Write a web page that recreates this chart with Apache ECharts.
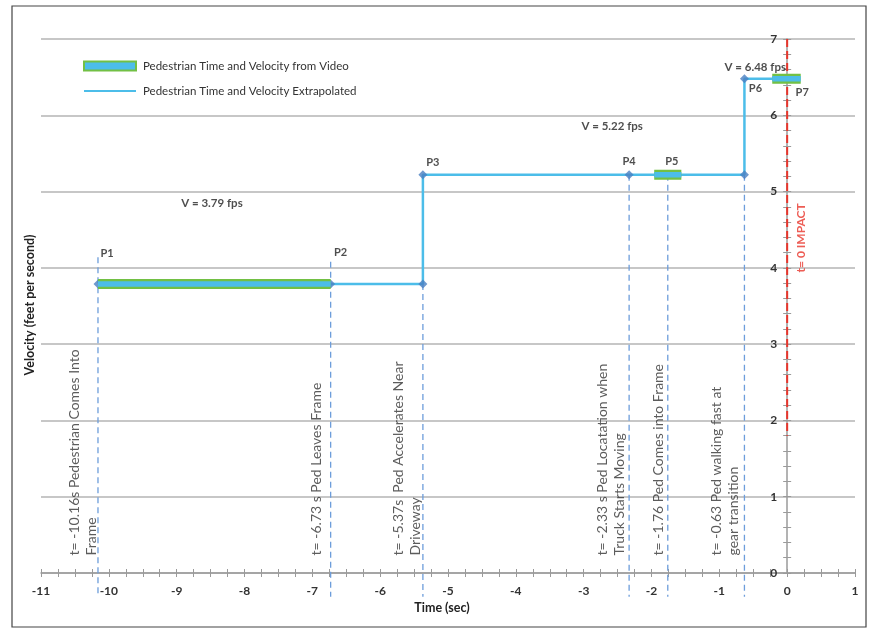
<!DOCTYPE html>
<html>
<head>
<meta charset="utf-8">
<script src="https://cdn.jsdelivr.net/npm/echarts@6/dist/echarts.min.js"></script>
<style>
  html, body { margin: 0; padding: 0; background: #fff; }
  #chart { width: 872px; height: 634px; }
</style>
</head>
<body>
<div id="chart"></div>
<script>
// Pedestrian walking speed before impact (t = 0)
const eventNames = ['P1', 'P2', 'P3', 'P4', 'P5', 'P6', 'P7'];
const eventTimes = [-10.16, -6.73, -5.37, -2.33, -1.76, -0.63, 0];
const speedLevels = [3.79, 5.22, 6.48];

// Extrapolated velocity profile (step changes at P3 and P6)
const extrapTimes = [-10.16, -5.37, -5.37, -0.63, -0.63, 0];
const extrapSpeeds = [3.79, 3.79, 5.22, 5.22, 6.48, 6.48];

// Time spans covered by video footage
const videoStart = [-10.16, -1.96, -0.22];
const videoEnd = [-6.73, -1.56, 0.20];
const videoSpeed = [3.79, 5.22, 6.48];

// Diamond markers at the profile's break points
const markerTimes = [-10.16, -6.73, -5.37, -5.37, -2.33, -0.63, -0.63];
const markerSpeeds = [3.79, 3.79, 3.79, 5.22, 5.22, 5.22, 6.48];

// Event guide lines: time, top of dashed guide
const guideTimes = [-10.16, -6.73, -5.37, -2.33, -1.76, -0.63];
const guideTops = [4.14, 4.08, 3.79, 5.22, 5.22, 5.22];
const guideBottom = -0.31;

const eventNotes = [
  't= -10.16s Pedestrian Comes Into\nFrame',
  't= -6.73 s Ped Leaves Frame',
  't= -5.37s  Ped Accelerates Near\nDriveway',
  't= -2.33 s Ped Locatation when\nTruck Starts Moving',
  't= -1.76 Ped Comes into Frame',
  't= -0.63 Ped walking fast at\ngear transition'
];

const xTicks = { min: -11, max: 1, step: 1 };
const yTicks = { min: 0, max: 7, step: 1 };

const impactTop = 7;
const impactBottom = 1.8;

const FONT = 'Lato, "Open Sans", sans-serif';
const BLUE = '#4cbde9';
const GREEN = '#72c044';
const DIAMOND = '#4a7fc2';
const GUIDE = '#6d9ddb';
const RED = '#e8352b';
const AXIS_GREY = '#9a9a9a';
const GRID_LEFT = 41;

const chart = echarts.init(document.getElementById('chart'));

// video segments as broken line
const videoData = [];
videoStart.forEach((s, i) => {
  if (i > 0) videoData.push(['-', '-']);
  videoData.push([s, videoSpeed[i]], [videoEnd[i], videoSpeed[i]]);
});

const guideSeries = guideTimes.map((t, i) => ({
  type: 'line',
  silent: true,
  clip: false,
  symbol: 'none',
  z: 1,
  data: [[t, guideTops[i]], [t, guideBottom]],
  lineStyle: { color: GUIDE, width: 1.3, type: [6, 4] }
}));

// pixel nudges for note text (screen-right shift)
const noteShift = [2, -6, 1, -1, -1, -2];
const notesSeries = {
  type: 'scatter',
  silent: true,
  symbolSize: 0,
  z: 6,
  data: guideTimes.map((t, i) => ({
    value: [t, 0.23],
    label: {
      show: true,
      formatter: eventNotes[i],
      rotate: 90,
      position: 'inside',
      align: 'left',
      verticalAlign: 'bottom',
      offset: [0, noteShift[i]],
      fontFamily: FONT,
      fontSize: 14,
      lineHeight: 17,
      color: '#333'
    }
  }))
};

// P-label anchors: event time and the speed at that event, plus pixel offset
const pSpeeds = [3.79, 3.79, 5.22, 5.22, 5.22, 6.48, 6.48];
const pOffsets = [[9, -30], [10, -31], [10, -12], [0, -13], [4, -13], [11, 10], [15, 14]];
const pLabelSeries = {
  type: 'scatter',
  silent: true,
  symbolSize: 0,
  z: 6,
  data: eventNames.map((n, i) => ({
    value: [eventTimes[i], pSpeeds[i]],
    label: {
      show: true,
      formatter: n,
      position: 'inside',
      offset: pOffsets[i],
      fontFamily: FONT,
      fontWeight: 'bold',
      fontSize: 11,
      color: '#222'
    }
  }))
};

// velocity captions
const vLabelPos = [[-8.48, 4.85], [-2.58, 5.85], [-0.47, 6.63]];
const vLabelSeries = {
  type: 'scatter',
  silent: true,
  symbolSize: 0,
  z: 6,
  data: speedLevels.map((v, i) => ({
    value: vLabelPos[i],
    label: {
      show: true,
      formatter: 'V = ' + v.toFixed(2) + ' fps',
      position: 'inside',
      fontFamily: FONT,
      fontWeight: 'bold',
      fontSize: 11.5,
      color: '#222'
    }
  }))
};

const impactLabelSeries = {
  type: 'scatter',
  silent: true,
  symbolSize: 0,
  z: 6,
  data: [{
    value: [0, 3.94],
    label: {
      show: true,
      formatter: 't= 0 IMPACT',
      rotate: 90,
      position: 'inside',
      align: 'left',
      verticalAlign: 'top',
      offset: [0, 8],
      fontFamily: FONT,
      fontWeight: 'bold',
      fontSize: 12,
      color: RED
    }
  }]
};

// tick marks cross the axis lines: one axis draws outward ticks, a twin draws inward ones
const xBase = {
  type: 'value',
  min: xTicks.min, max: xTicks.max, interval: xTicks.step,
  splitLine: { show: false }
};
const yBase = {
  type: 'value',
  position: 'left',
  min: yTicks.min, max: yTicks.max, interval: yTicks.step
};

const option = {
  animation: false,
  backgroundColor: '#fff',
  grid: { left: GRID_LEFT, right: 17, top: 39, bottom: 61 },
  legend: {
    orient: 'vertical',
    left: 78,
    top: 55,
    itemWidth: 52,
    itemHeight: 9,
    itemGap: 13,
    textStyle: { fontFamily: FONT, fontSize: 11.5, color: '#333', padding: [0, 0, 0, 2] },
    data: [
      { name: 'Pedestrian Time and Velocity from Video', icon: 'rect',
        itemStyle: { color: BLUE, borderColor: GREEN, borderWidth: 2 } },
      { name: 'Pedestrian Time and Velocity Extrapolated', icon: 'path://M0 0H52V2.2H0Z',
        itemStyle: { color: BLUE, borderWidth: 0 } }
    ]
  },
  xAxis: [
    Object.assign({}, xBase, {
      position: 'bottom',
      axisLine: { onZero: false, lineStyle: { color: AXIS_GREY, width: 1.5 } },
      axisTick: { show: true, length: 4, lineStyle: { color: AXIS_GREY } },
      minorTick: { show: true, splitNumber: 4, length: 4, lineStyle: { color: AXIS_GREY } },
      axisLabel: { margin: 12, fontFamily: FONT, fontWeight: 'bold', fontSize: 12, color: '#333' }
    }),
    Object.assign({}, xBase, {
      position: 'bottom',
      axisLine: { show: false, onZero: false },
      axisTick: { show: true, inside: true, length: 4, lineStyle: { color: AXIS_GREY } },
      minorTick: { show: true, splitNumber: 4, length: 4, lineStyle: { color: AXIS_GREY } },
      axisLabel: { show: false }
    })
  ],
  yAxis: [
    Object.assign({}, yBase, {
      axisLine: { show: true, onZero: false, lineStyle: { color: AXIS_GREY, width: 1.5 } },
      axisTick: { show: true, length: 4, lineStyle: { color: AXIS_GREY } },
      minorTick: { show: true, splitNumber: 5, length: 4, lineStyle: { color: AXIS_GREY } },
      axisLabel: { margin: 10, fontFamily: FONT, fontWeight: 'bold', fontSize: 12, color: '#333' },
      splitLine: { show: true, lineStyle: { color: '#b4b4b4', width: 1.5 } }
    }),
    Object.assign({}, yBase, {
      axisLine: { show: false, onZero: false },
      axisTick: { show: true, inside: true, length: 4, lineStyle: { color: AXIS_GREY } },
      minorTick: { show: true, splitNumber: 5, length: 4, lineStyle: { color: AXIS_GREY } },
      axisLabel: { show: false },
      splitLine: { show: false }
    })
  ],
  graphic: [
    { type: 'rect', shape: { x: 12, y: 6, width: 854, height: 621 }, style: { fill: 'none', stroke: '#444', lineWidth: 1.2 }, z: 100 },
    { type: 'text', x: 30, y: 305, rotation: Math.PI / 2,
      style: { text: 'Velocity (feet per second)', fontFamily: FONT, fontWeight: 'bold', fontSize: 12.5, fill: '#222', align: 'center', verticalAlign: 'middle' } },
    { type: 'text', x: 442, y: 608,
      style: { text: 'Time (sec)', fontFamily: FONT, fontWeight: 'bold', fontSize: 12.5, fill: '#222', align: 'center', verticalAlign: 'middle' } }
  ],
  series: [
    ...guideSeries,
    {
      type: 'line', silent: true, symbol: 'none', z: 1,
      data: [[0, impactTop], [0, impactBottom]],
      lineStyle: { color: RED, width: 2, type: [8, 4] }
    },
    {
      name: 'Pedestrian Time and Velocity Extrapolated',
      type: 'line', symbol: 'none', z: 3,
      data: extrapTimes.map((t, i) => [t, extrapSpeeds[i]]),
      lineStyle: { color: BLUE, width: 2.5 },
      itemStyle: { color: BLUE }
    },
    {
      type: 'scatter', symbol: 'diamond', symbolSize: 9, z: 3,
      data: markerTimes.map((t, i) => [t, markerSpeeds[i]]),
      itemStyle: { color: DIAMOND }
    },
    {
      name: 'Pedestrian Time and Velocity from Video',
      type: 'line', symbol: 'none', z: 4, connectNulls: false,
      data: videoData,
      lineStyle: { color: GREEN, width: 10, cap: 'butt' },
      itemStyle: { color: GREEN }
    },
    {
      name: 'Pedestrian Time and Velocity from Video',
      type: 'line', symbol: 'none', z: 5, connectNulls: false,
      data: videoData,
      lineStyle: { color: BLUE, width: 5.5, cap: 'butt' },
      itemStyle: { color: BLUE }
    },
    notesSeries,
    pLabelSeries,
    vLabelSeries,
    impactLabelSeries
  ]
};

chart.setOption(option);

// the velocity axis crosses the time axis at t = 0
const zeroX = chart.convertToPixel({ xAxisIndex: 0 }, 0);
const yOffset = -(zeroX - GRID_LEFT);
chart.setOption({ yAxis: [{ offset: yOffset }, { offset: yOffset }] });
</script>
</body>
</html>
